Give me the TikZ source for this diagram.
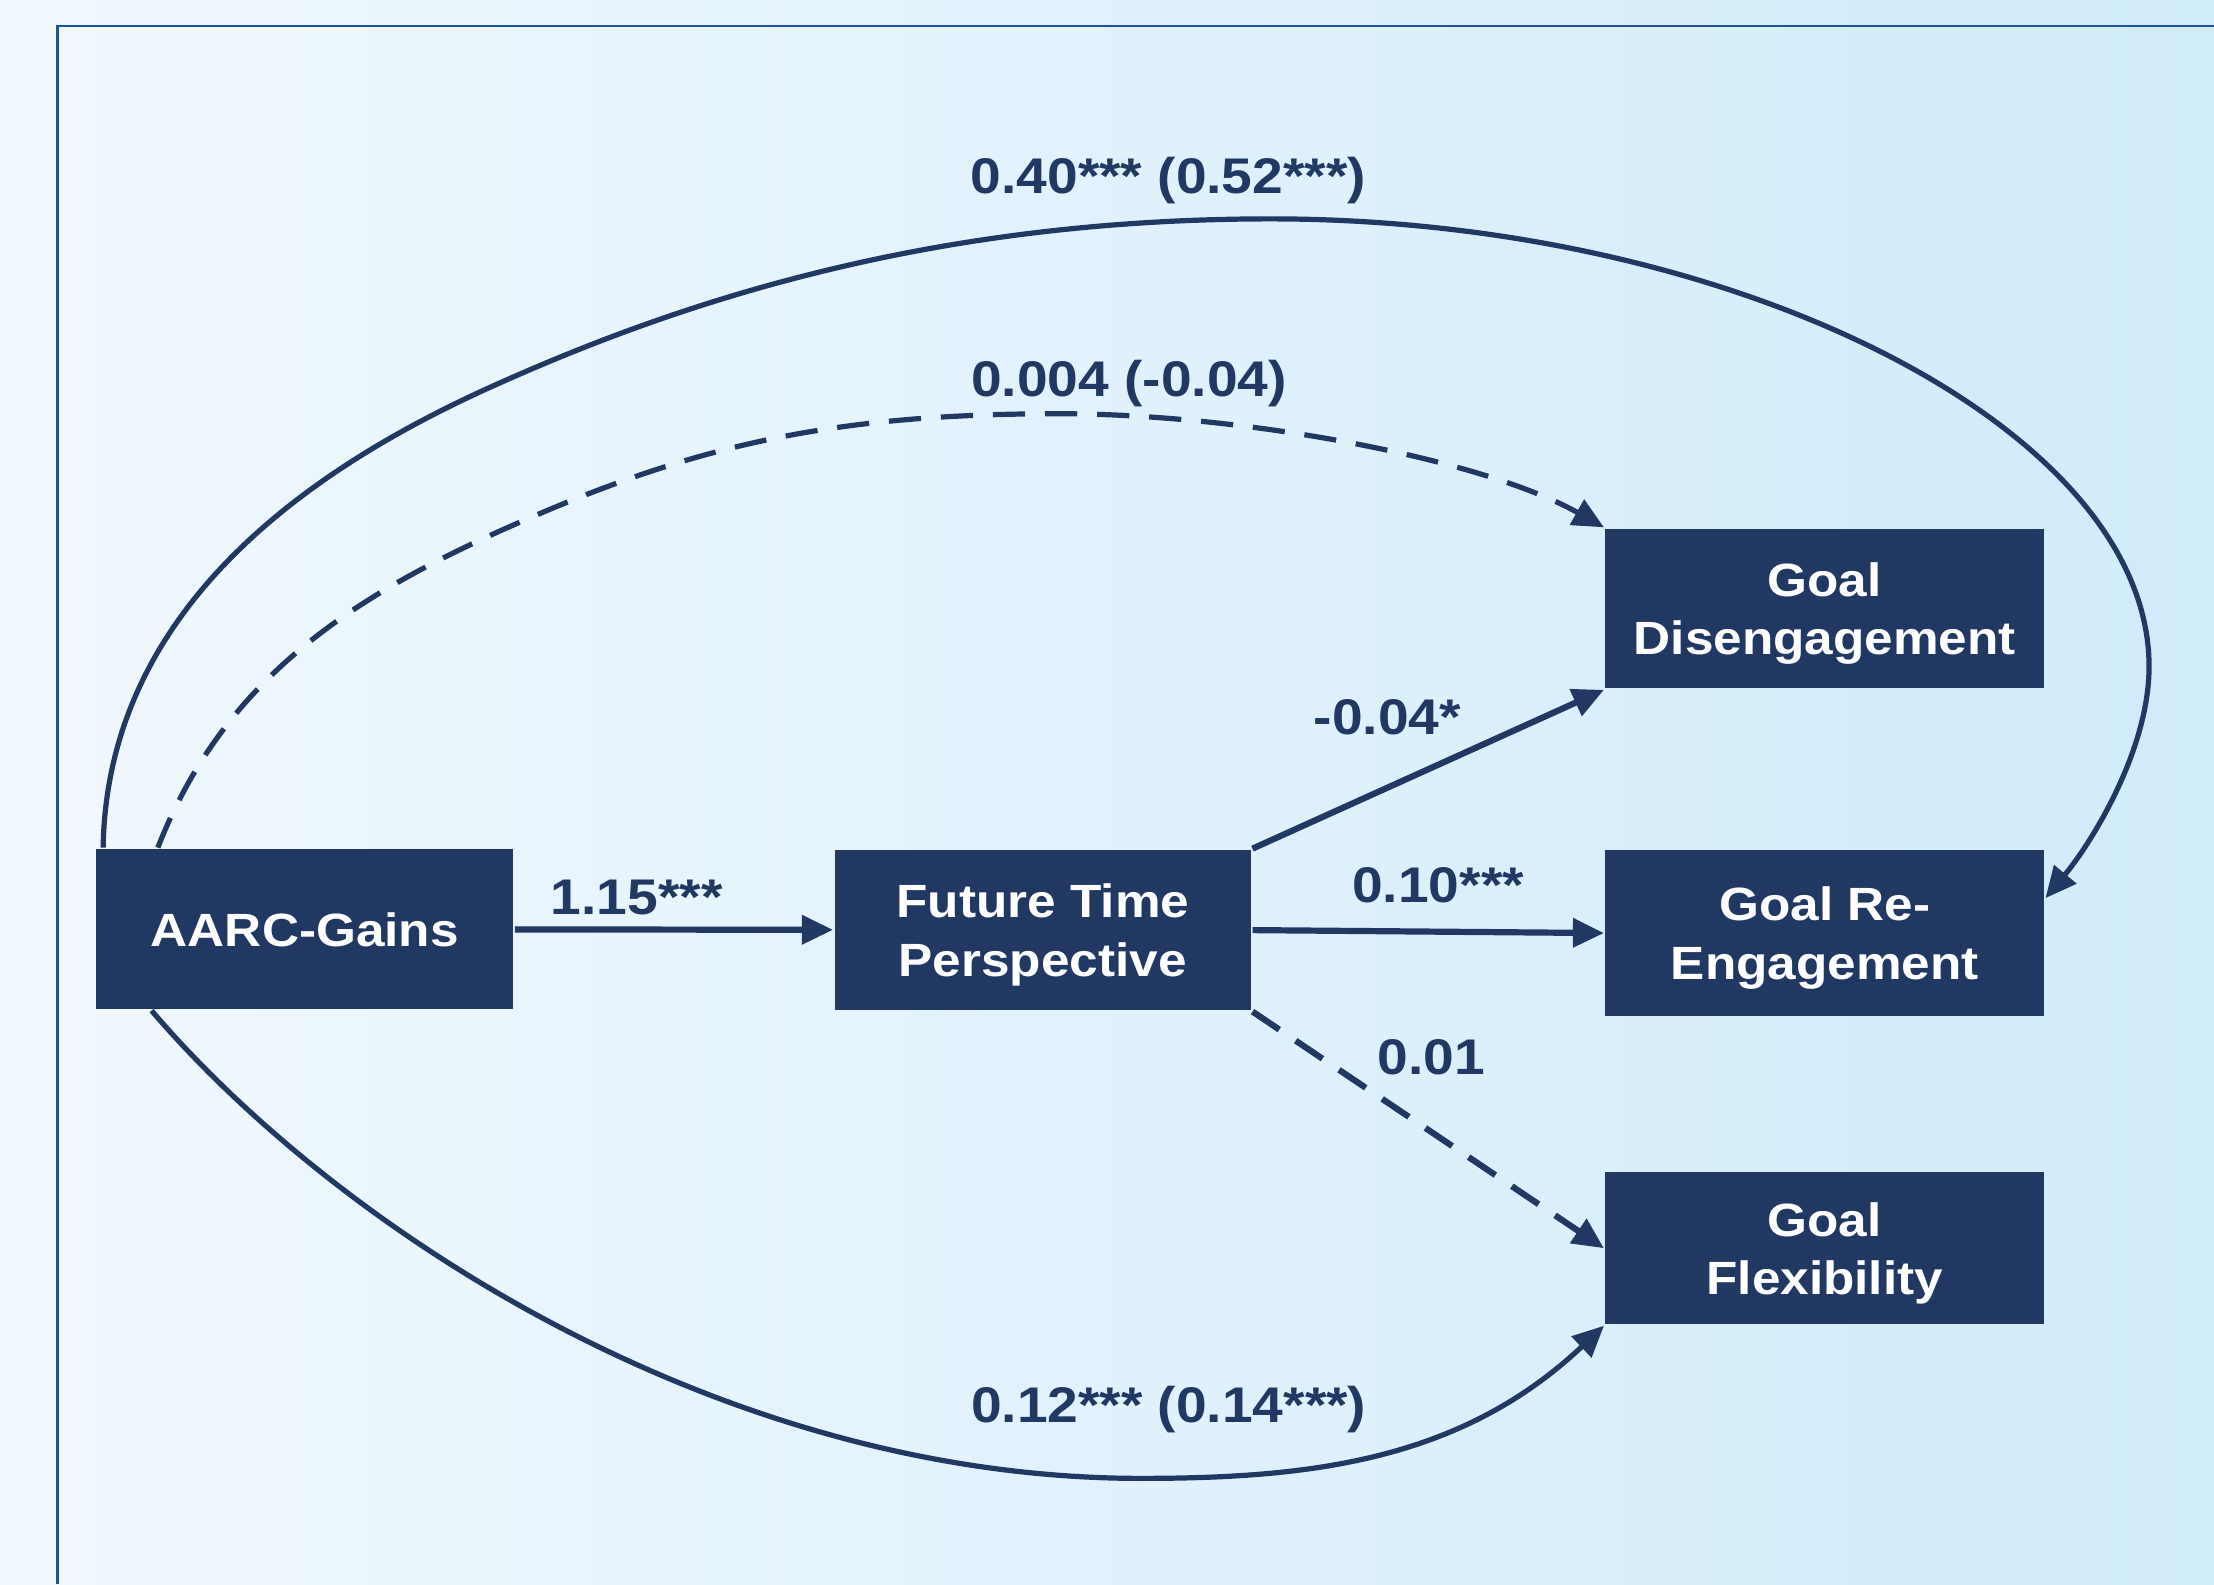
\documentclass[tikz,border=0pt]{standalone}
\usepackage{fontspec}
\setmainfont{Liberation Sans}[FakeStretch=1.1]
\usetikzlibrary{positioning, arrows.meta}
\definecolor{navyblue}{RGB}{33,56,99}
\definecolor{frameblue}{RGB}{31,82,150}
\definecolor{bgleft}{RGB}{241,248,253}
\definecolor{bgright}{RGB}{208,235,250}

\begin{document}
\begin{tikzpicture}[auto, semithick,
            box/.style ={rectangle, fill=navyblue, text=white, align=center, inner sep=0pt, text depth=0pt,
            font=\fontsize{9.4}{11.7}\selectfont\bfseries, minimum width=3.106cm, minimum height=1.13cm},
            coef/.style ={text=navyblue, anchor=base, inner sep=0pt, font=\fontsize{10.1}{12}\selectfont\bfseries},
            link/.style ={draw=navyblue, line width=1.25pt, -{Triangle[length=2.2mm, width=2mm]}},
            curve/.style ={draw=navyblue, line width=1.05pt, -{Triangle[length=2.2mm, width=2mm]}},
            dashline/.style ={dash pattern=on 6.5pt off 4pt}]

        \useasboundingbox (0,0) rectangle (15.68,-11.22);
        \fill[left color=bgleft, right color=bgright] (0,0) rectangle (15.68,-11.22);
        \draw[frameblue, line width=0.6pt] (0.41,-11.22) -- (0.41,-0.184) -- (15.68,-0.184);

        %nodos
        \node[box, minimum width=2.952cm, minimum height=1.133cm] (AARC) at (2.159, -6.58) {AARC-Gains};
        \node[box, minimum width=2.95cm, minimum height=1.133cm] (FTP) at (7.385, -6.587) {Future Time\\Perspective};
        \node[box] (GD) at (12.923, -4.31) {Goal\\Disengagement};
        \node[box, minimum height=1.175cm] (GR) at (12.923, -6.608) {Goal Re-\\Engagement};
        \node[box, minimum height=1.077cm] (GF) at (12.923, -8.84) {Goal\\Flexibility};

        %coeficientes
        \node[coef] (c040) at (8.275, -1.369) {0.40*** (0.52***)};
        \node[coef] (c004) at (7.996, -2.81) {0.004 (-0.04)};
        \node[coef] (c115) at (4.51, -6.473) {1.15***};
        \node[coef] (cGD) at (9.825, -5.205) {-0.04*};
        \node[coef] (cGR) at (10.185, -6.395) {0.10***};
        \node[coef] (cGF) at (10.135, -7.61) {0.01};
        \node[coef] (c012) at (8.277, -10.075) {0.12*** (0.14***)};

        \path (AARC) edge [link] (FTP);
        \path (FTP.north east) edge [link] (GD.south west);
        \path (FTP.east) edge [link] (GR.west);
        \path (FTP.south east) edge [link, dashline] (GF.west);

        %curvas
        \draw[curve] (AARC.158) .. controls (0.757,-4.37) and (2.088,-3.37) .. (3.455,-2.75)
            .. controls (4.822,-2.13) and (6.60,-1.55) .. (9.00,-1.55)
            .. controls (12.30,-1.55) and (15.22,-3.04) .. (15.22,-4.72)
            .. controls (15.22,-5.32) and (14.805,-5.977) .. (GR.9);
        \draw[curve, dashline] (AARC.151) .. controls (1.611,-4.74) and (2.597,-4.156) .. (3.84,-3.63)
            .. controls (5.037,-3.123) and (6.00,-2.93) .. (7.50,-2.93)
            .. controls (8.80,-2.93) and (10.49,-3.247) .. (GD.north west);
        \draw[curve] (AARC.208) .. controls (2.38,-8.688) and (5.08,-10.47) .. (8.08,-10.47)
            .. controls (9.28,-10.47) and (10.346,-10.345) .. (GF.south west);

    \end{tikzpicture}
\end{document}
